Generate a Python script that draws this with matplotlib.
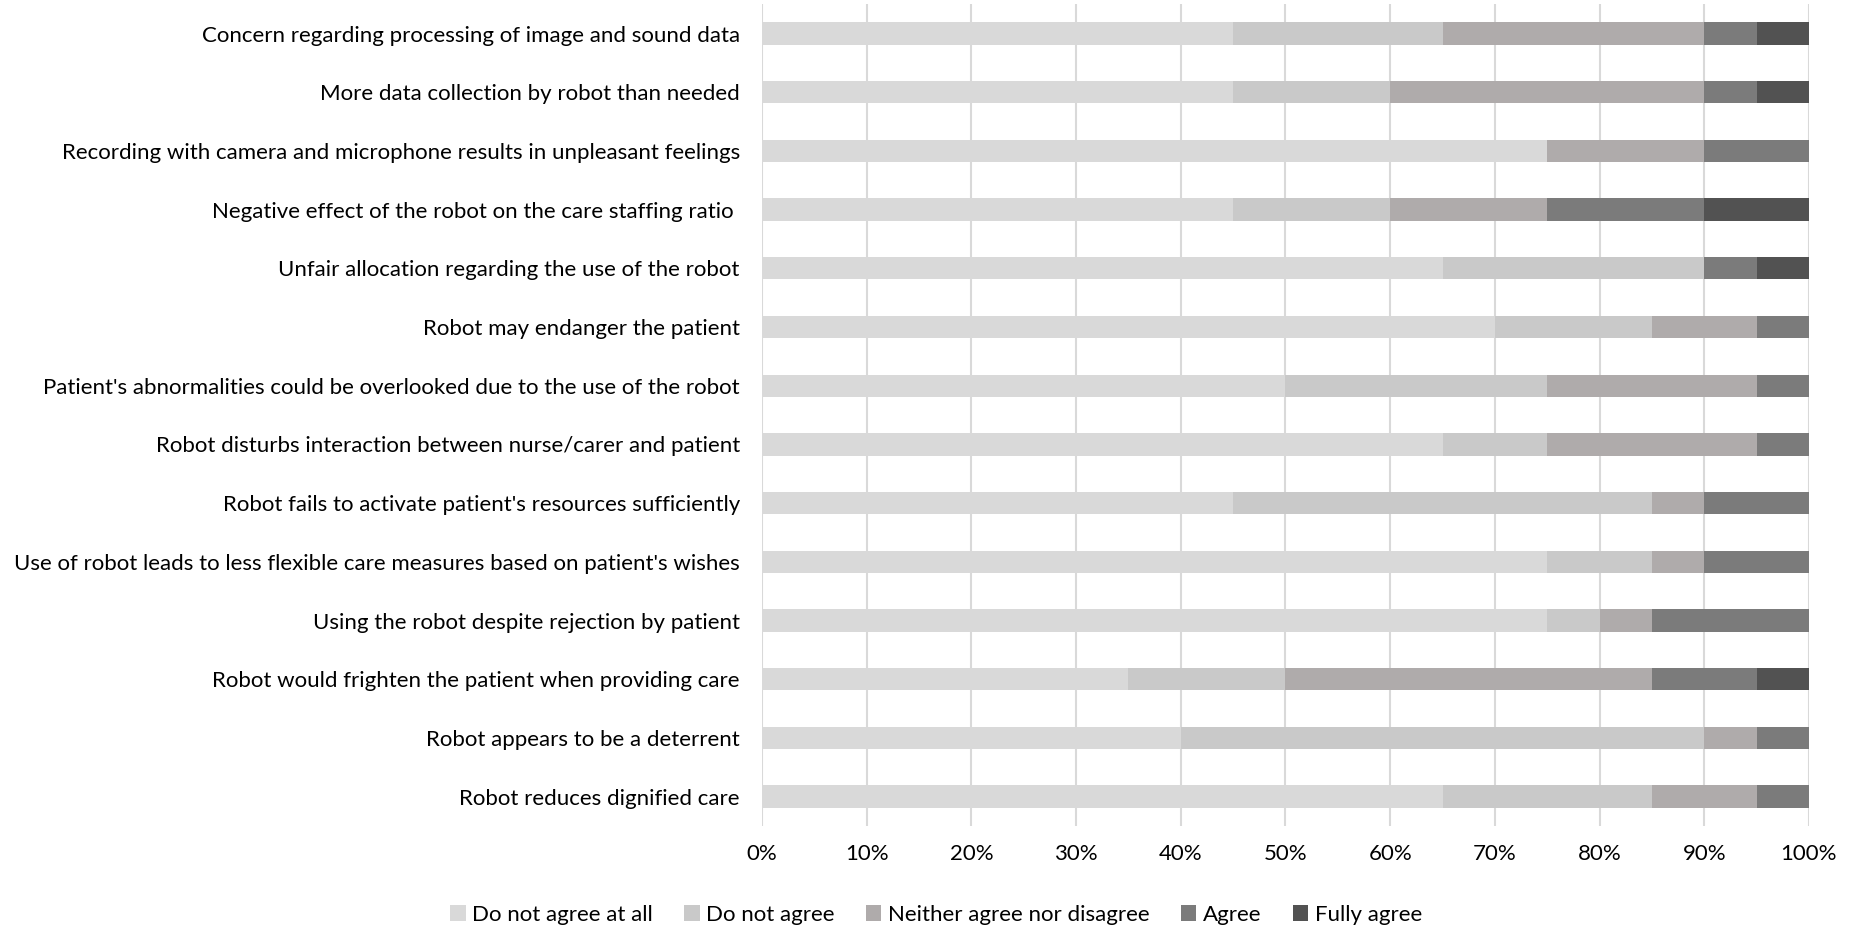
import matplotlib.pyplot as plt
import numpy as np

plt.rcParams['font.family'] = ['Lato', 'DejaVu Sans']

items = [
    "Concern regarding processing of image and sound data",
    "More data collection by robot than needed",
    "Recording with camera and microphone results in unpleasant feelings",
    "Negative effect of the robot on the care staffing ratio ",
    "Unfair allocation regarding the use of the robot",
    "Robot may endanger the patient",
    "Patient's abnormalities could be overlooked due to the use of the robot",
    "Robot disturbs interaction between nurse/carer and patient",
    "Robot fails to activate patient's resources sufficiently",
    "Use of robot leads to less flexible care measures based on patient's wishes",
    "Using the robot despite rejection by patient",
    "Robot would frighten the patient when providing care",
    "Robot appears to be a deterrent",
    "Robot reduces dignified care",
]

# share of answers per item (%)
not_at_all = [45, 45, 75, 45, 65, 70, 50, 65, 45, 75, 75, 35, 40, 65]
not_agree  = [20, 15, 0, 15, 25, 15, 25, 10, 40, 10, 5, 15, 50, 20]
neither    = [25, 30, 15, 15, 0, 10, 20, 20, 5, 5, 5, 35, 5, 10]
agree      = [5, 5, 10, 15, 5, 5, 5, 5, 10, 10, 15, 10, 5, 5]
fully      = [5, 5, 0, 10, 5, 0, 0, 0, 0, 0, 0, 5, 0, 0]

levels = ["Do not agree at all", "Do not agree", "Neither agree nor disagree",
          "Agree", "Fully agree"]
colors = ["#D9D9D9", "#C9C9C9", "#AFABAB", "#7B7B7B", "#525252"]

fig = plt.figure(figsize=(18.61, 9.26), dpi=100)
ax = fig.add_axes([0.4095, 0.108, 0.5625, 0.8875])

y = np.arange(len(items))
left = np.zeros(len(items))
for vals, lab, col in zip([not_at_all, not_agree, neither, agree, fully], levels, colors):
    vals = np.array(vals, dtype=float)
    ax.barh(y, vals, left=left, height=0.38, color=col, label=lab, zorder=2)
    left += vals

ax.set_ylim(len(items) - 0.5, -0.5)
ax.set_xlim(0, 100)
ax.set_yticks(y)
ax.set_yticklabels(items, fontsize=16)
ax.set_xticks(np.arange(0, 101, 10))
ax.set_xticklabels([f"{v}%" for v in range(0, 101, 10)], fontsize=16)
ax.xaxis.grid(True, color="#D9D9D9", linewidth=1.5, zorder=0)
ax.tick_params(axis='both', length=0)
ax.tick_params(axis='y', pad=16)
ax.tick_params(axis='x', pad=13)
for s in ax.spines.values():
    s.set_visible(False)

fig.legend(loc="lower center", bbox_to_anchor=(0.503, -0.02), ncol=5, frameon=False,
           fontsize=16, handlelength=0.7, handleheight=0.7, handletextpad=0.3,
           columnspacing=1.4)

fig.savefig("out.png", dpi=100)
